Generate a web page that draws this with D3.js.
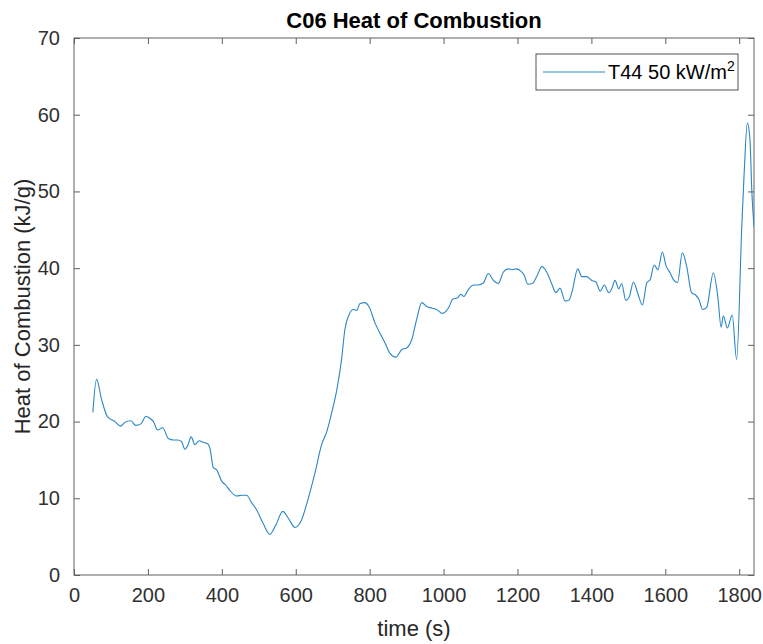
<!DOCTYPE html>
<html lang="en">
<head>
  <meta charset="UTF-8">
  <title>C06 Heat of Combustion</title>
  <style>
    body { margin: 0; background: #fff; }
    svg { display: block; font-family: "Liberation Sans", Arial, sans-serif; }
    .tick text { fill: #303030; font-size: 20px; }
    .title { font-weight: bold; font-size: 22px; fill: #000; }
    .label { font-size: 22px; fill: #262626; }
  </style>
</head>
<body>
<svg width="763" height="644"></svg>

<script src="https://cdn.jsdelivr.net/npm/d3@7/dist/d3.min.js"></script>
<script>
  // time (s)
  const time = [51, 61, 75, 91, 111, 126, 138, 154, 167, 181, 195, 206, 215, 226, 240, 255, 269, 280, 291, 300,
    307, 317, 327, 339, 350, 362, 368, 377, 386, 400, 411, 422, 440, 454, 467, 481, 494, 512, 530, 546,
    565, 580, 598, 614, 634, 652, 670, 684, 697, 711, 724, 733, 744, 756, 765, 774, 787, 798, 815, 828,
    842, 855, 871, 887, 900, 914, 927, 941, 954, 968, 981, 998, 1013, 1026, 1037, 1047, 1055, 1067, 1081, 1094,
    1108, 1121, 1135, 1148, 1162, 1175, 1186, 1196, 1209, 1218, 1228, 1240, 1253, 1266, 1279, 1293, 1304, 1315, 1329, 1339,
    1348, 1363, 1374, 1387, 1401, 1412, 1424, 1435, 1447, 1455, 1464, 1474, 1482, 1493, 1502, 1514, 1525, 1538, 1550, 1559,
    1570, 1580, 1592, 1602, 1613, 1622, 1633, 1646, 1658, 1671, 1682, 1691, 1701, 1712, 1730, 1742, 1751, 1757, 1768, 1781,
    1793, 1807, 1813, 1822, 1829, 1834, 1840];

  // heat of combustion (kJ/g)
  const hoc = [21.2, 25.5, 22.8, 20.6, 20.0, 19.4, 19.9, 20.1, 19.5, 19.7, 20.7, 20.4, 20.0, 18.9, 19.2, 17.8, 17.6, 17.6, 17.4, 16.4,
    16.8, 18.0, 17.0, 17.5, 17.3, 17.1, 16.5, 14.0, 13.7, 12.2, 11.7, 11.0, 10.3, 10.4, 10.4, 9.4, 8.5, 6.7, 5.3, 6.5,
    8.3, 7.4, 6.2, 7.0, 10.0, 13.3, 17.0, 18.7, 21.1, 24.1, 28.1, 32.0, 33.9, 34.6, 34.5, 35.4, 35.5, 35.0, 32.8, 31.5,
    30.2, 28.9, 28.4, 29.4, 29.6, 30.7, 33.3, 35.5, 35.0, 34.8, 34.6, 34.1, 34.8, 36.0, 36.1, 36.6, 36.3, 37.2, 37.8, 37.8,
    38.1, 39.3, 38.4, 38.0, 39.5, 39.9, 39.8, 39.9, 39.6, 39.1, 37.9, 38.0, 39.0, 40.2, 39.5, 37.9, 36.8, 37.4, 35.7, 35.8,
    37.0, 39.9, 38.9, 38.9, 38.4, 38.2, 37.0, 37.8, 36.8, 37.3, 38.4, 37.3, 38.0, 35.8, 36.2, 38.2, 36.8, 35.2, 38.1, 38.5,
    40.4, 39.8, 42.1, 40.3, 39.4, 38.5, 38.1, 42.0, 40.2, 36.8, 36.5, 35.9, 34.6, 34.9, 39.4, 36.3, 32.3, 33.8, 32.2, 33.9,
    28.1, 45.5, 52.0, 58.9, 56.8, 50.2, 45.4];

  const xTicks = [0, 200, 400, 600, 800, 1000, 1200, 1400, 1600, 1800];
  const yTicks = [0, 10, 20, 30, 40, 50, 60, 70];

  const svg = d3.select("svg");
  const mLeft = 74, mRight = 754, mTop = 38, mBottom = 575;
  const axisColor = "#606060";
  const lineColor = "#2a86c4";

  const x = d3.scaleLinear().domain([0, 1840]).range([mLeft, mRight]);
  const y = d3.scaleLinear().domain([0, 70]).range([mBottom, mTop]);

  const data = time.map(function (t, i) { return {t: t, v: hoc[i]}; });

  // box
  svg.append("rect")
    .attr("x", mLeft).attr("y", mTop)
    .attr("width", mRight - mLeft).attr("height", mBottom - mTop)
    .attr("fill", "#fff").attr("stroke", axisColor).attr("stroke-width", 1);

  // inward ticks on all four sides
  function styleAxis(g) {
    g.select(".domain").remove();
    g.selectAll(".tick line").attr("stroke", axisColor);
  }

  svg.append("g")
    .attr("transform", "translate(0," + mBottom + ")")
    .call(d3.axisBottom(x).tickValues(xTicks).tickSize(-6).tickPadding(13).tickFormat(d3.format("d")))
    .call(styleAxis);

  svg.append("g")
    .attr("transform", "translate(0," + mTop + ")")
    .call(d3.axisTop(x).tickValues(xTicks).tickSize(-6).tickFormat(""))
    .call(styleAxis);

  svg.append("g")
    .attr("transform", "translate(" + mLeft + ",0)")
    .call(d3.axisLeft(y).tickValues(yTicks).tickSize(-6).tickPadding(14).tickFormat(d3.format("d")))
    .call(styleAxis);

  svg.append("g")
    .attr("transform", "translate(" + mRight + ",0)")
    .call(d3.axisRight(y).tickValues(yTicks).tickSize(-6).tickFormat(""))
    .call(styleAxis);

  svg.selectAll("g").attr("font-family", null).attr("font-size", null);

  // line
  svg.append("defs").append("clipPath").attr("id", "clip")
    .append("rect").attr("x", mLeft).attr("y", mTop)
    .attr("width", mRight - mLeft).attr("height", mBottom - mTop);

  const line = d3.line()
    .x(function (d) { return x(d.t); })
    .y(function (d) { return y(d.v); })
    .curve(d3.curveMonotoneX);

  svg.append("path")
    .datum(data)
    .attr("clip-path", "url(#clip)")
    .attr("fill", "none")
    .attr("stroke", lineColor)
    .attr("stroke-width", 1.1)
    .attr("d", line);

  // titles
  svg.append("text")
    .attr("class", "title")
    .attr("x", (mLeft + mRight) / 2).attr("y", 28)
    .attr("text-anchor", "middle")
    .text("C06 Heat of Combustion");

  svg.append("text")
    .attr("class", "label")
    .attr("x", (mLeft + mRight) / 2).attr("y", 636)
    .attr("text-anchor", "middle")
    .text("time (s)");

  svg.append("text")
    .attr("class", "label")
    .attr("transform", "translate(30," + ((mTop + mBottom) / 2) + ") rotate(-90)")
    .attr("text-anchor", "middle")
    .text("Heat of Combustion (kJ/g)");

  // legend
  const lg = svg.append("g").attr("transform", "translate(536,54)");
  lg.append("rect")
    .attr("width", 202).attr("height", 36)
    .attr("fill", "#fff").attr("stroke", "#262626").attr("stroke-width", 0.8);
  lg.append("line")
    .attr("x1", 7).attr("x2", 69).attr("y1", 18).attr("y2", 18)
    .attr("stroke", lineColor).attr("stroke-width", 1.1);
  const lt = lg.append("text")
    .attr("x", 72).attr("y", 25)
    .attr("font-size", 20).attr("fill", "#000")
    .text("T44 50 kW/m");
  lt.append("tspan").attr("dy", -8).attr("font-size", 14).text("2");
</script>
</body>
</html>
